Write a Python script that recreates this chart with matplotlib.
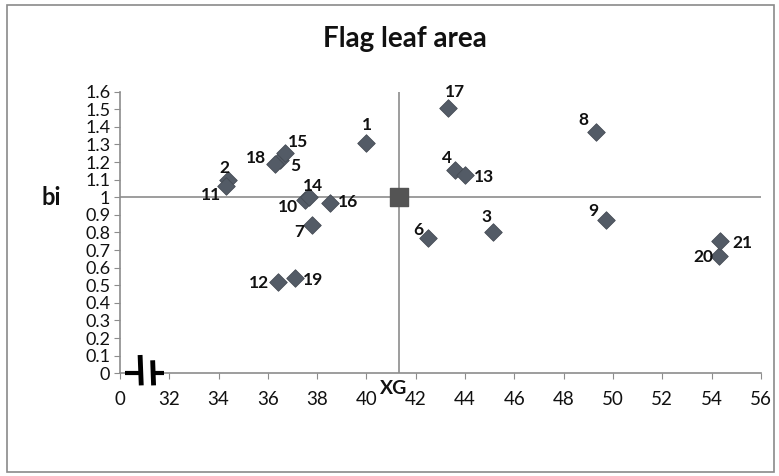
import matplotlib
matplotlib.use("Agg")
import matplotlib.pyplot as plt
from matplotlib.patches import Rectangle

plt.rcParams["font.family"] = ["Lato", "DejaVu Sans"]

# genotype numbers, mean flag leaf area (x) and regression coefficient bi (y)
genotypes = [1, 2, 3, 4, 5, 6, 7, 8, 9, 10, 11, 12, 13, 14, 15, 16, 17, 18, 19, 20, 21]
mean_x = [40.0, 34.4, 45.15, 43.6, 36.5, 42.5, 37.8, 49.3, 49.7, 37.5, 34.3,
          36.4, 44.0, 37.65, 36.7, 38.5, 43.3, 36.3, 37.1, 54.3, 54.35]
bi = [1.31, 1.10, 0.80, 1.155, 1.21, 0.77, 0.84, 1.37, 0.87, 0.985, 1.065,
      0.52, 1.125, 1.0, 1.25, 0.97, 1.51, 1.19, 0.54, 0.665, 0.75]
grand_mean = 41.3   # XG
bi_ref = 1.0

x_ticks = [30, 32, 34, 36, 38, 40, 42, 44, 46, 48, 50, 52, 54, 56]
x_labels = ["0", "32", "34", "36", "38", "40", "42", "44", "46", "48", "50", "52", "54", "56"]
y_ticks = [i / 10 for i in range(17)]
y_labels = ["0", "0.1", "0.2", "0.3", "0.4", "0.5", "0.6", "0.7", "0.8", "0.9",
            "1", "1.1", "1.2", "1.3", "1.4", "1.5", "1.6"]

# label offsets in pixels (dx, dy) from each point
label_off = {1: (0, 18), 2: (-4, 12), 3: (-7, 15), 4: (-8, 12), 5: (15, -6),
             6: (-10, 8), 7: (-13, -7), 8: (-12, 12), 9: (-12, 9), 10: (-17, -7),
             11: (-15, -9), 12: (-19, -1), 13: (19, -2), 14: (4, 11), 15: (13, 11),
             16: (19, 1), 17: (7, 16), 18: (-19, 6), 19: (18, -2), 20: (-16, -1),
             21: (22, -2)}

fig = plt.figure(figsize=(7.79, 4.76), dpi=100)
fig.patches.append(Rectangle((0.009, 0.008), 0.985, 0.982, transform=fig.transFigure,
                             fill=False, edgecolor="#8a8a8a", lw=1.2))
ax = fig.add_axes([0.154, 0.2158, 0.8228, 0.5916])

line_c = "#8c8c8c"
ax.axhline(bi_ref, color=line_c, lw=1.2, zorder=1)
ax.axvline(grand_mean, color=line_c, lw=1.2, zorder=1)

ax.scatter(mean_x, bi, marker="D", s=80, color="#535b66", edgecolor="#464c55",
           linewidth=0.6, zorder=3)
ax.scatter([grand_mean], [bi_ref], marker="s", s=180, color="#545454", zorder=3)

for g, x, y in zip(genotypes, mean_x, bi):
    dx, dy = label_off[g]
    ax.annotate(str(g), (x, y), xytext=(dx, dy), textcoords="offset pixels",
                ha="center", va="center", fontsize=12.5, fontweight="bold",
                color="#111111", zorder=4)

ax.set_xlim(30, 56)
ax.set_ylim(0, 1.6)
ax.set_xticks(x_ticks)
ax.set_xticklabels(x_labels, fontsize=13.5)
ax.set_yticks(y_ticks)
ax.set_yticklabels(y_labels, fontsize=13)
ax.tick_params(axis="both", direction="out", length=4, color=line_c, colors="#111111")
ax.tick_params(axis="x", pad=9)
ax.tick_params(axis="y", pad=3)
for s in ["top", "right"]:
    ax.spines[s].set_visible(False)
for s in ["left", "bottom"]:
    ax.spines[s].set_color(line_c)
    ax.spines[s].set_linewidth(1.2)

# axis break mark
ax.plot([30.2, 30.8], [0, 0], color="black", lw=3, solid_capstyle="butt", clip_on=False, zorder=5)
ax.plot([30.9, 31.3], [0, 0], color="white", lw=4, clip_on=False, zorder=5)
ax.plot([31.35, 31.8], [0, 0], color="black", lw=3, solid_capstyle="butt", clip_on=False, zorder=5)
ax.plot([30.82, 30.86], [0.09, -0.055], color="black", lw=3.5, clip_on=False, zorder=6)
ax.plot([31.33, 31.36], [0.06, -0.055], color="black", lw=3.5, clip_on=False, zorder=6)

fig.text(0.52, 0.918, "Flag leaf area", ha="center", va="center", fontsize=20,
         fontweight="bold", color="#111111")
fig.text(0.066, 0.585, "bi", ha="center", va="center", fontsize=17,
         fontweight="bold", color="#111111")
ax.annotate("XG", (grand_mean, 0), xytext=(-5, -15), textcoords="offset pixels",
            ha="center", va="center", fontsize=14, fontweight="bold", color="#111111",
            annotation_clip=False)

fig.savefig("out.png", dpi=100)
